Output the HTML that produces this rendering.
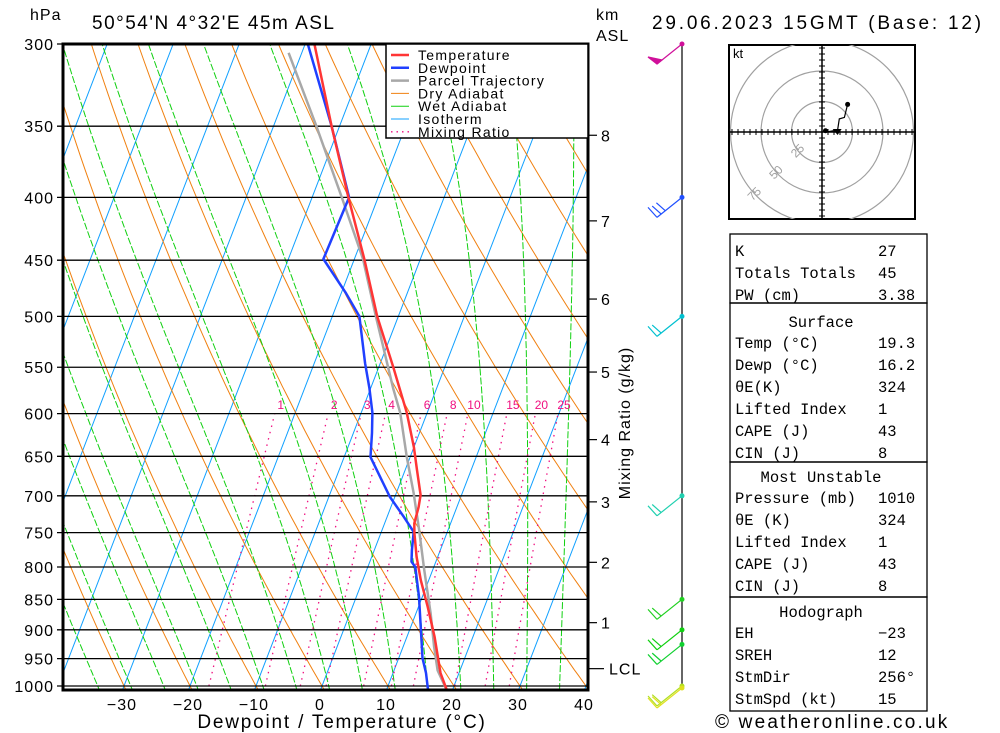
<!DOCTYPE html>
<html><head><meta charset="utf-8">
<style>
body{margin:0;background:#fff;}
svg{display:block;font-family:"Liberation Sans",sans-serif;}
.t{font-size:16px;letter-spacing:1px;fill:#000;}
.m{font-family:"Liberation Mono",monospace;font-size:15.5px;fill:#000;}
</style></head>
<body>
<svg id="c" width="1000" height="733" viewBox="0 0 1000 733" xmlns="http://www.w3.org/2000/svg">
<defs><clipPath id="clip"><rect x="63" y="44" width="525" height="646"/></clipPath></defs>
<g id="bg" clip-path="url(#clip)"></g>
<g id="plines"></g>
<g id="prof" clip-path="url(#clip)"></g>
<rect x="63" y="44" width="525" height="646" fill="none" stroke="#000" stroke-width="3"/>
<text x="30" y="20" class="t">hPa</text>
<text x="92" y="29" style="font-size:19px;letter-spacing:1.5px">50°54'N 4°32'E 45m ASL</text>
<text x="652" y="29" style="font-size:19px;letter-spacing:2.8px">29.06.2023 15GMT (Base: 12)</text>
<text x="596" y="20" class="t">km</text>
<text x="596" y="41" class="t">ASL</text>
<text x="342" y="728" text-anchor="middle" style="font-size:19px;letter-spacing:1.8px">Dewpoint / Temperature (°C)</text>
<text transform="translate(630,423) rotate(-90)" text-anchor="middle" style="font-size:16px;letter-spacing:1px">Mixing Ratio (g/kg)</text>
<g id="xt"></g>
<g id="yt"></g>
<g id="km"></g>
<g id="mrl"></g>
<g id="legend">
<rect x="386" y="44" width="202" height="94" fill="#fff" stroke="#000" stroke-width="1.5"/>
</g>
<line x1="682" y1="44" x2="682" y2="690" stroke="#000" stroke-width="1.2"/>
<g id="barbs"></g>
<g id="hodo">
<rect x="729" y="45" width="186" height="174" fill="#fff" stroke="#000" stroke-width="2"/>
<text x="733" y="58" style="font-size:13px">kt</text>
</g>
<g id="table">
<rect x="730" y="234" width="197" height="69" fill="none" stroke="#000" stroke-width="1.3"/>
<rect x="730" y="303" width="197" height="159" fill="none" stroke="#000" stroke-width="1.3"/>
<rect x="730" y="462" width="197" height="135" fill="none" stroke="#000" stroke-width="1.3"/>
<rect x="730" y="597" width="197" height="114" fill="none" stroke="#000" stroke-width="1.3"/>
</g>
<text x="715" y="728" style="font-size:19px;letter-spacing:2.2px">© weatheronline.co.uk</text>
</svg>
<script>
// ---- data ----
const tempP=[1010,976,912,862,820,785,751,737,715,699,667,639,599,563,550,500,449,400,350,300];
const tempT=[19.3,17.2,14.2,11.4,8.8,6.8,5.1,4.5,4.2,3.8,1.8,0.0,-3.1,-6.5,-7.8,-13.2,-18.5,-24.5,-31.2,-38.6];
const dewP=[1010,976,949,900,846,800,792,775,749,728,701,651,622,599,572,546,500,478,449,400,350,300];
const dewT=[16.4,15.0,13.6,11.7,9.5,7.2,6.3,5.7,4.9,2.5,-0.8,-6.0,-7.2,-8.3,-10.2,-12.3,-15.9,-19.4,-24.7,-24.4,-31.2,-39.6];
const parP=[1010,971,929,872,804,746,696,651,599,572,500,449,400,350,305];
const parT=[19.3,16.6,14.7,12.2,8.7,5.6,2.6,-0.5,-4.1,-6.6,-13.4,-18.7,-25.5,-33.5,-42];
const pressLevels=[300,350,400,450,500,550,600,650,700,750,800,850,900,950,1000];
const xTicks=[-30,-20,-10,0,10,20,30,40];
const kmLabels=["8","7","6","5","4","3","2","1","LCL"];
const kmPress=[356,418,484,555,630,708,793,888,968];
const mixRatios=[1,2,3,4,6,8,10,15,20,25];
const windP=[300,400,500,700,850,900,925,1000,1008];
const windColor=["#d0109a","#2050ff","#00c0d0","#20d0b0","#20d020","#10d010","#10d030","#b0e020","#e0e020"];
const windFlag=[1,0,0,0,0,0,0,0,0];
const windFeathers=[1,3,2,2,2,2,2,2,2];
const hodoU=[4.5,12.8,14.2,18.4,21];
const hodoV=[0.2,1.6,10.7,12,22.6];
const tableRows=[["K","27",250],["Totals Totals","45",272],["PW (cm)","3.38",294],
["Temp (°C)","19.3",342],["Dewp (°C)","16.2",364],["θE(K)","324",386],["Lifted Index","1",408],["CAPE (J)","43",430],["CIN (J)","8",452],
["Pressure (mb)","1010",497],["θE (K)","324",519],["Lifted Index","1",541],["CAPE (J)","43",563],["CIN (J)","8",585],
["EH","−23",632],["SREH","12",654],["StmDir","256°",676],["StmSpd (kt)","15",698]];
const tableHeads=[["Surface",321],["Most Unstable",476],["Hodograph",611]];

// ---- axes ----
const NS="http://www.w3.org/2000/svg";
function y(p){return 686-Math.log(1000/p)/Math.log(1000/300)*642;}
function x(T,p){return 322+6.6*T+0.385*(686-y(p));}
function mk(tag,attrs,parent){const e=document.createElementNS(NS,tag);for(const k in attrs)e.setAttribute(k,attrs[k]);parent.appendChild(e);return e;}
function path(pts){return pts.map((q,i)=>(i?"L":"M")+q[0].toFixed(1)+" "+q[1].toFixed(1)).join("");}
const bg=document.getElementById("bg");

for(let T=-140;T<=40;T+=10){
  const l=mk("line",{x1:x(T,1060),y1:y(1060),x2:x(T,290),y2:y(290),stroke:"#10a0ff","stroke-width":1},bg);
  
  
}
for(let t0=-60;t0<=200;t0+=10){
  const th=t0+273.15;const pts=[];
  for(let p=1060;p>=290;p-=10){pts.push([x(th*Math.pow(p/1000,0.2857)-273.15,p),y(p)]);}
  const e=mk("path",{d:path(pts),fill:"none",stroke:"#f08010","stroke-width":1},bg);
  
  
}
function es(T){return 6.112*Math.exp(17.67*T/(T+243.5));}
function moist(T,p){const Tk=T+273.15;const rs=0.622*es(T)/(p-es(T));const Lv=2.5e6,Rd=287,cp=1004;
  return (Rd*Tk+Lv*rs)/(p*(cp+Lv*Lv*rs*0.622/(Rd*Tk*Tk)));}
for(let t0=-34;t0<=36;t0+=5){
  const pts=[];let T=t0;
  for(let p=1000;p<1060;p+=5){T+=moist(T,p)*5;}
  let T2=T;
  for(let p=1060;p>=290;p-=5){pts.push([x(T2,p),y(p)]);T2-=moist(T2,p)*5;}
  const e=mk("path",{d:path(pts),fill:"none",stroke:"#10d010","stroke-width":1,"stroke-dasharray":"7,2"},bg);
  
  
}
function tdw(w,p){const e=w*p/(622+w);const l=Math.log(e/6.112);return 243.5*l/(17.67-l);}
const mrl=document.getElementById("mrl");
mixRatios.forEach(w=>{
  const pts=[];for(let p=1000;p>=600;p-=10)pts.push([x(tdw(w,p),p),y(p)]);
  const e=mk("path",{d:path(pts),fill:"none",stroke:"#f01080","stroke-width":1.3,"stroke-dasharray":"1.5,5"},bg);
  
  
  const t=mk("text",{x:x(tdw(w,600),600)+6,y:409,"text-anchor":"middle",fill:"#f01080","font-size":"12px"},mrl);
  t.textContent=w;
  
  
});
const pl=document.getElementById("plines"),yt=document.getElementById("yt");
pressLevels.forEach(p=>{
  const l=mk("line",{x1:57,y1:y(p),x2:588,y2:y(p),stroke:"#000","stroke-width":1.3},pl);
  
  
  const t=mk("text",{x:54,y:y(p)+6,"text-anchor":"end",class:"t"},yt);
  t.textContent=p;
  
  
});
const xt=document.getElementById("xt");
xTicks.forEach(T=>{
  const t=mk("text",{x:322+6.6*T-2,y:710,"text-anchor":"middle",class:"t"},xt);
  t.textContent=(T<0?"−":"")+Math.abs(T);
  
  
});
const km=document.getElementById("km");
kmLabels.forEach((lab,i)=>{
  const yy=y(kmPress[i]);
  const l=mk("line",{x1:588,y1:yy,x2:lab==="LCL"?604:597,y2:yy,stroke:"#000","stroke-width":1.2},km);
  
  
  const t=mk("text",{x:lab==="LCL"?609:601,y:yy+6,class:"t"},km);
  t.textContent=lab;
  
  
});
const prof=document.getElementById("prof");
function prf(P,T,col,name,w){
  const e=mk("path",{d:path(P.map((p,i)=>[x(T[i],p),y(p)])),fill:"none",stroke:col,"stroke-width":w,"stroke-linejoin":"round"},prof);
  
  
}
prf(parP,parT,"#a8a8a8","parcel-trajectory-line",2.5);
prf(dewP,dewT,"#2040ff","dewpoint-line",2.5);
prf(tempP,tempT,"#ff3535","temperature-line",2.5);
const lg=document.getElementById("legend");
[["Temperature","#ff3535",2.5,""],["Dewpoint","#2040ff",2.5,""],["Parcel Trajectory","#a8a8a8",2.5,""],["Dry Adiabat","#f08010",1,""],["Wet Adiabat","#10d010",1,""],["Isotherm","#10a0ff",1,""],["Mixing Ratio","#f01080",1.3,"1.5,4"]].forEach((r,i)=>{
  const yy=55+i*12.8;
  const l=mk("line",{x1:391,y1:yy,x2:409,y2:yy,stroke:r[1],"stroke-width":r[2],"stroke-dasharray":r[3]||"none"},lg);
  
  
  const t=mk("text",{x:418,y:yy+5,"font-size":"14px","letter-spacing":"1.3px"},lg);
  t.textContent=r[0];
  
  
});
const bb=document.getElementById("barbs");
windP.forEach((p,i)=>{
  const y0=Math.min(y(p),688),c=windColor[i];
  const g=mk("g",{stroke:c,fill:c,"stroke-width":1.2},bb);
  
  
  mk("circle",{cx:682,cy:y0,r:2.5,stroke:"none"},g);
  const tx=682-25,ty=y0+20;
  mk("line",{x1:682,y1:y0,x2:tx,y2:ty},g);
  if(windFlag[i]){mk("path",{d:`M${tx} ${ty} L${tx-9} ${ty-7} L${tx+5} ${ty-4}Z`},g);}
  else{for(let k=0;k<windFeathers[i];k++){const fx=tx+k*4.2,fy=ty-k*3.3;mk("line",{x1:fx,y1:fy,x2:fx-9,y2:fy-(k===0?10:8)},g);}}
});
const hd=document.getElementById("hodo");
const cx=822,cy=132,kt=1.22;
const hc=mk("clipPath",{id:"hclip"},document.querySelector("defs"));
mk("rect",{x:729,y:45,width:186,height:174},hc);
[25,50,75].forEach(r=>{
  const cl=mk("circle",{cx:cx,cy:cy,r:r*kt,fill:"none",stroke:"#a0a0a0","stroke-width":1.2,"clip-path":"url(#hclip)"},hd);
  
  
  const a=Math.PI*0.75,tx=cx+Math.cos(a)*r*kt,ty=cy+Math.sin(a)*r*kt;
  const t=mk("text",{x:tx,y:ty,"font-size":"12px",fill:"#a0a0a0","text-anchor":"middle",transform:`rotate(-45 ${tx} ${ty})`},hd);
  t.textContent=r;
  
  
});
mk("line",{x1:729,y1:cy,x2:915,y2:cy,stroke:"#000","stroke-width":1.5},hd);
mk("line",{x1:cx,y1:45,x2:cx,y2:219,stroke:"#000","stroke-width":1.5},hd);
for(let d=-90;d<=90;d+=6){if(d===0)continue;
  mk("line",{x1:cx+d,y1:cy-3,x2:cx+d,y2:cy+3,stroke:"#000","stroke-width":1,"clip-path":"url(#hclip)"},hd);
  mk("line",{x1:cx-3,y1:cy+d,x2:cx+3,y2:cy+d,stroke:"#000","stroke-width":1,"clip-path":"url(#hclip)"},hd);}
const hp=mk("path",{d:path(hodoU.map((u,i)=>[cx+u*kt,cy-hodoV[i]*kt])),fill:"none",stroke:"#000","stroke-width":1.2},hd);


mk("circle",{cx:cx+hodoU[4]*kt,cy:cy-hodoV[4]*kt,r:2.5},hd);
mk("circle",{cx:cx+hodoU[0]*kt-2,cy:cy-hodoV[0]*kt-1,r:2.5},hd);
mk("path",{d:`M${cx+hodoU[1]*kt-5} ${cy-3} L${cx+hodoU[1]*kt+4} ${cy-3} L${cx+hodoU[1]*kt} ${cy+3}Z`},hd);
const tb=document.getElementById("table");
tableRows.forEach(r=>{
  const a=mk("text",{x:735,y:r[2]+6,class:"m"},tb);a.textContent=r[0];
  
  
  const b=mk("text",{x:878,y:r[2]+6,class:"m"},tb);b.textContent=r[1];
  
  
});
tableHeads.forEach(h=>{
  const t=mk("text",{x:821,y:h[1]+6,class:"m","text-anchor":"middle"},tb);t.textContent=h[0];
  
  
});
</script>
</body></html>
